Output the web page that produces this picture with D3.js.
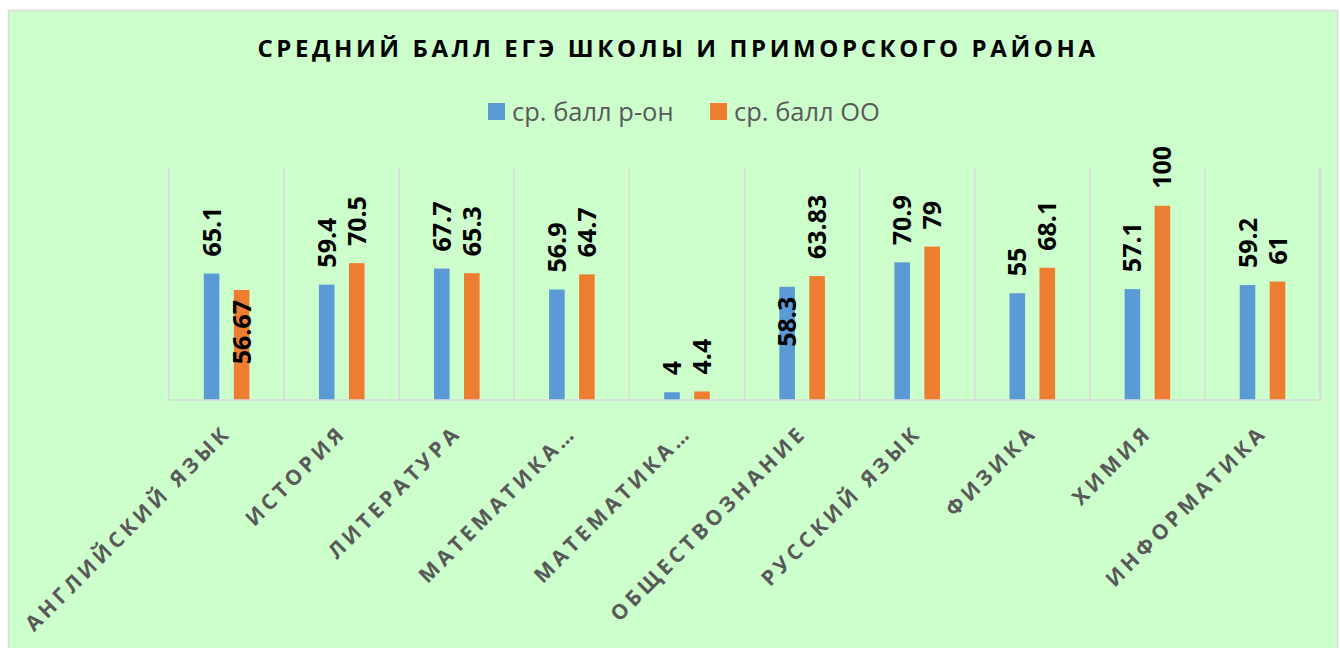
<!DOCTYPE html>
<html>
<head>
<meta charset="utf-8">
<script src="https://cdn.jsdelivr.net/npm/d3@7"></script>
<style>
  body { margin: 0; background: #ffffff; }
  svg { display: block; }
</style>
</head>
<body>
<div id="chart"></div>
<script>
// Chart data
const subjects = ["АНГЛИЙСКИЙ ЯЗЫК", "ИСТОРИЯ", "ЛИТЕРАТУРА", "МАТЕМАТИКА…", "МАТЕМАТИКА…",
                  "ОБЩЕСТВОЗНАНИЕ", "РУССКИЙ ЯЗЫК", "ФИЗИКА", "ХИМИЯ", "ИНФОРМАТИКА"];
const districtAvg = [65.1, 59.4, 67.7, 56.9, 4, 58.3, 70.9, 55, 57.1, 59.2];
const schoolAvg = [56.67, 70.5, 65.3, 64.7, 4.4, 63.83, 79, 68.1, 100, 61];
const seriesNames = ["ср. балл р-он", "ср. балл ОО"];
// labels that sit inside the bar end: [subject index, series index]
const insideLabels = [[0, 1], [5, 0]];

const width = 1340;
const height = 648;
const plot = {left: 169, right: 1320, top: 167, bottom: 400};

const bgColor = "#CCFFCC";
const gridColor = "#D9D9D9";
const textGray = "#595959";
const colors = ["#5B9BD5", "#ED7D31"];
const font = "'Open Sans', 'DejaVu Sans', sans-serif";

const svg = d3.select("#chart")
    .append("svg")
    .attr("width", width)
    .attr("height", height);

// chart area
svg.append("rect")
    .attr("x", 8.5)
    .attr("y", 10.5)
    .attr("width", 1329)
    .attr("height", 660)
    .attr("fill", bgColor)
    .attr("stroke", gridColor)
    .attr("stroke-width", 1.5);

// Title
svg.append("text")
    .attr("x", 678)
    .attr("y", 57)
    .attr("text-anchor", "middle")
    .attr("font-family", font)
    .attr("font-weight", 700)
    .attr("font-size", 24)
    .attr("letter-spacing", 3.6)
    .attr("fill", "#000")
    .text("СРЕДНИЙ БАЛЛ ЕГЭ ШКОЛЫ И ПРИМОРСКОГО РАЙОНА");

// Legend
const legendX = [488, 710];
const legend = svg.append("g");
seriesNames.forEach((name, i) => {
    legend.append("rect")
        .attr("x", legendX[i])
        .attr("y", 103)
        .attr("width", 17)
        .attr("height", 17)
        .attr("fill", colors[i]);
    legend.append("text")
        .attr("x", legendX[i] + 24)
        .attr("y", 121)
        .attr("font-family", font)
        .attr("font-size", 25.5)
        .attr("fill", textGray)
        .text(name);
});

// Scales
const x0 = d3.scaleBand()
    .domain(d3.range(subjects.length))
    .range([plot.left, plot.right])
    .padding(0);

const x1 = d3.scaleBand()
    .domain([0, 1])
    .range([34.8, 80.4])
    .paddingInner(0.48);

const y = d3.scaleLinear()
    .domain([0, 120])
    .range([plot.bottom, plot.top]);

// Vertical category separators
const gridXs = d3.range(subjects.length).map(i => x0(i)).concat([plot.right]);
svg.append("g")
    .selectAll("line")
    .data(gridXs)
    .enter().append("line")
    .attr("x1", d => d)
    .attr("x2", d => d)
    .attr("y1", plot.top)
    .attr("y2", plot.bottom)
    .attr("stroke", gridColor)
    .attr("stroke-width", 1.5);

// Bars
const series = [districtAvg, schoolAvg];
const points = [];
series.forEach((vals, s) => vals.forEach((v, i) => points.push({i, s, v})));

svg.append("g")
    .selectAll("rect")
    .data(points)
    .enter().append("rect")
    .attr("x", d => x0(d.i) + x1(d.s))
    .attr("y", d => y(d.v))
    .attr("width", x1.bandwidth())
    .attr("height", d => y(0) - y(d.v))
    .attr("fill", d => colors[d.s]);

// Baseline
svg.append("line")
    .attr("x1", plot.left)
    .attr("x2", plot.right)
    .attr("y1", plot.bottom)
    .attr("y2", plot.bottom)
    .attr("stroke", gridColor)
    .attr("stroke-width", 1.5);

// Data labels, rotated
const isInside = d => insideLabels.some(p => p[0] === d.i && p[1] === d.s);
svg.append("g")
    .selectAll("text")
    .data(points)
    .enter().append("text")
    .attr("transform", d => {
        const cx = x0(d.i) + x1(d.s) + x1.bandwidth() / 2;
        const ty = isInside(d) ? y(d.v) + 10 : y(d.v) - 17;
        return "translate(" + cx + "," + ty + ") rotate(-90)";
    })
    .attr("text-anchor", d => isInside(d) ? "end" : "start")
    .attr("dy", "0.36em")
    .attr("font-family", font)
    .attr("font-weight", 700)
    .attr("font-size", 25)
    .attr("fill", "#000")
    .text(d => d.v);

// Category axis
const xAxis = svg.append("g")
    .attr("transform", "translate(0," + plot.bottom + ")")
    .call(d3.axisBottom(x0).tickSize(0).tickFormat(i => subjects[i]));

xAxis.select(".domain").remove();
xAxis.selectAll("text")
    .attr("x", 0)
    .attr("y", 0)
    .attr("dy", 0)
    .attr("transform", "translate(6,34) rotate(-45)")
    .style("text-anchor", "end")
    .style("font-family", font)
    .style("font-weight", 700)
    .style("font-size", "21px")
    .style("letter-spacing", "4px")
    .attr("fill", textGray);
</script>
</body>
</html>
